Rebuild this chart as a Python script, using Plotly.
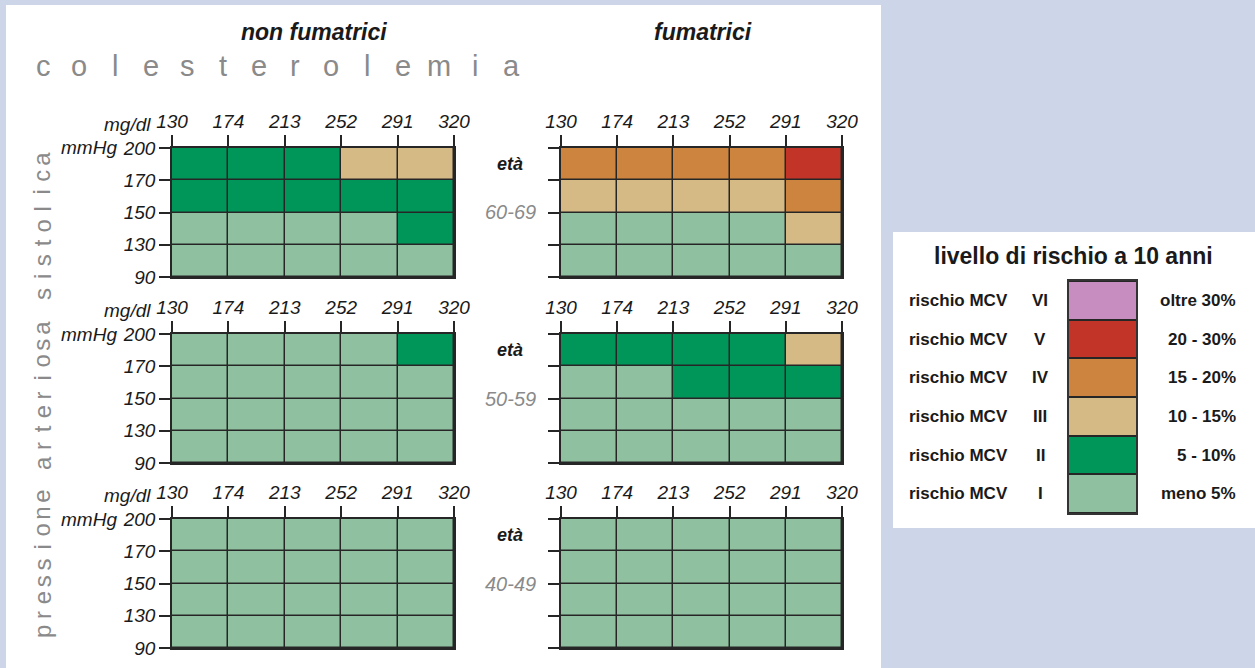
import plotly.graph_objects as go

# ---------------- data ----------------
chol_ticks = ["130", "174", "213", "252", "291", "320"]
bp_ticks = ["90", "130", "150", "170", "200"]
age_groups = ["60-69", "50-59", "40-49"]
groups = ["non fumatrici", "fumatrici"]

# risk level per cell (1 = I ... 6 = VI); rows listed top (170-200) to bottom (90-130)
nonsmoke_60_69 = [[2, 2, 2, 3, 3], [2, 2, 2, 2, 2], [1, 1, 1, 1, 2], [1, 1, 1, 1, 1]]
smoke_60_69 = [[4, 4, 4, 4, 5], [3, 3, 3, 3, 4], [1, 1, 1, 1, 3], [1, 1, 1, 1, 1]]
nonsmoke_50_59 = [[1, 1, 1, 1, 2], [1, 1, 1, 1, 1], [1, 1, 1, 1, 1], [1, 1, 1, 1, 1]]
smoke_50_59 = [[2, 2, 2, 2, 3], [1, 1, 2, 2, 2], [1, 1, 1, 1, 1], [1, 1, 1, 1, 1]]
nonsmoke_40_49 = [[1, 1, 1, 1, 1], [1, 1, 1, 1, 1], [1, 1, 1, 1, 1], [1, 1, 1, 1, 1]]
smoke_40_49 = [[1, 1, 1, 1, 1], [1, 1, 1, 1, 1], [1, 1, 1, 1, 1], [1, 1, 1, 1, 1]]

risk_levels = ["I", "II", "III", "IV", "V", "VI"]
risk_ranges = ["meno 5%", "5 - 10%", "10 - 15%", "15 - 20%", "20 - 30%", "oltre 30%"]
risk_colors = ["#8fc1a0", "#00965a", "#d5ba86", "#cd843e", "#c33428", "#c78dc1"]

panels = [
    [nonsmoke_60_69, smoke_60_69],
    [nonsmoke_50_59, smoke_50_59],
    [nonsmoke_40_49, smoke_40_49],
]

# ---------------- layout helpers ----------------
W, H = 1255, 668
def px(x):
    return x / W
def py(y):
    return 1 - y / H
def sfx(n):
    return "" if n == 1 else str(n)

FONT = "Liberation Sans, Arial, Helvetica, sans-serif"
LINE = "#262626"
GRAY = "#8a8a8a"
BG = "#cdd6e8"
TXT = "#1a1a1a"

n_lv = len(risk_colors)
cscale = []
for i, c in enumerate(risk_colors):
    cscale.append([i / n_lv, c])
    cscale.append([(i + 1) / n_lv, c])

col_x = [(172, 454), (561, 842)]
row_y = [(148, 277), (334, 463), (519, 648)]

fig = go.Figure()
layout = {}
annotations = []

xcent = [i + 0.5 for i in range(len(chol_ticks) - 1)]
ycent = [i + 0.5 for i in range(len(bp_ticks) - 1)]
tickfont = dict(family=FONT, size=19, style="italic", color=TXT)

for i, age in enumerate(age_groups):
    for j in range(2):
        s = sfx(i * 2 + j + 1)
        z = list(reversed(panels[i][j]))
        fig.add_trace(go.Heatmap(
            z=z, x=xcent, y=ycent, zmin=0.5, zmax=n_lv + 0.5,
            colorscale=cscale, showscale=False, xgap=1.5, ygap=1.5,
            hoverinfo="skip", xaxis=f"x{s}", yaxis=f"y{s}",
        ))
        layout[f"xaxis{s}"] = dict(
            domain=[px(col_x[j][0]), px(col_x[j][1])], anchor=f"y{s}",
            range=[0, len(chol_ticks) - 1], side="top", automargin=False,
            tickvals=list(range(len(chol_ticks))), ticktext=chol_ticks,
            ticks="outside", ticklen=11, tickwidth=1.5, tickcolor=LINE,
            showline=True, mirror=True, linecolor=LINE, linewidth=1.5,
            showgrid=False, zeroline=False, fixedrange=True, tickfont=tickfont,
        )
        layout[f"yaxis{s}"] = dict(
            domain=[py(row_y[i][1]), py(row_y[i][0])], anchor=f"x{s}",
            range=[0, len(bp_ticks) - 1], automargin=False,
            tickvals=list(range(len(bp_ticks))), ticktext=bp_ticks,
            showticklabels=(j == 0),
            ticks="outside", ticklen=11, tickwidth=1.5, tickcolor=LINE,
            showline=True, mirror=True, linecolor=LINE, linewidth=1.5,
            showgrid=False, zeroline=False, fixedrange=True, tickfont=tickfont,
        )
        if j == 0:
            annotations.append(dict(
                text="mg/dl", xref=f"x{s}", x=0, xanchor="right", xshift=-19,
                yref=f"y{s} domain", y=1, yanchor="bottom", yshift=11,
                showarrow=False, font=tickfont))
            annotations.append(dict(
                text="mmHg", xref=f"x{s} domain", x=0, xanchor="right", xshift=-53,
                yref=f"y{s}", y=len(bp_ticks) - 1, yanchor="middle",
                showarrow=False, font=tickfont))
        else:
            annotations.append(dict(
                text="età", xref="paper", x=px(510), xanchor="center",
                yref=f"y{s}", y=len(bp_ticks) - 1.5, yanchor="middle",
                showarrow=False,
                font=dict(family=FONT, size=18, style="italic", weight="bold", color=TXT)))
            annotations.append(dict(
                text=age, xref="paper", x=px(510), xanchor="center",
                yref=f"y{s}", y=2, yanchor="middle",
                showarrow=False,
                font=dict(family=FONT, size=20, style="italic", color=GRAY)))

# legend swatches as a small heatmap
lv_idx = list(range(1, n_lv + 1))
fig.add_trace(go.Heatmap(
    z=[[v] for v in lv_idx], x=[0.5], y=[k + 0.5 for k in range(n_lv)],
    zmin=0.5, zmax=n_lv + 0.5, colorscale=cscale, showscale=False,
    ygap=2, hoverinfo="skip", xaxis="x7", yaxis="y7",
))
layout["xaxis7"] = dict(domain=[px(1069), px(1136)], anchor="y7", range=[0, 1],
                        automargin=False, showticklabels=False, ticks="", showgrid=False,
                        zeroline=False, showline=True, mirror=True,
                        linecolor="#333333", linewidth=1.5, fixedrange=True)
layout["yaxis7"] = dict(domain=[py(513), py(281)], anchor="x7", range=[0, n_lv],
                        automargin=False, showticklabels=False, ticks="", showgrid=False,
                        zeroline=False, showline=True, mirror=True,
                        linecolor="#333333", linewidth=1.5, fixedrange=True)
lf = dict(family=FONT, size=17, weight="bold", color=TXT)
for k in range(n_lv):
    annotations.append(dict(text="rischio MCV", xref="paper", x=px(907), xanchor="left",
                            yref="y7", y=k + 0.5, yanchor="middle", showarrow=False, font=lf))
    annotations.append(dict(text=risk_levels[k], xref="paper", x=px(1040), xanchor="center",
                            yref="y7", y=k + 0.5, yanchor="middle", showarrow=False, font=lf))
    annotations.append(dict(text=risk_ranges[k], xref="paper", x=px(1238), xanchor="right",
                            yref="y7", y=k + 0.5, yanchor="middle", showarrow=False, font=lf))

annotations.append(dict(text="livello di rischio a 10 anni", xref="paper", x=px(1073),
                        y=py(256), yref="paper", xanchor="center", yanchor="middle",
                        showarrow=False,
                        font=dict(family=FONT, size=23, weight="bold", color=TXT)))

# titles
tfont = dict(family=FONT, size=23, style="italic", weight="bold", color=TXT)
annotations.append(dict(text=groups[0], xref="paper", x=px(314), yref="paper", y=py(32),
                        xanchor="center", yanchor="middle", showarrow=False, font=tfont))
annotations.append(dict(text=groups[1], xref="paper", x=px(703), yref="paper", y=py(32),
                        xanchor="center", yanchor="middle", showarrow=False, font=tfont))

# letter-spaced axis titles
chol_title = "colesterolemia"
for k, ch in enumerate(chol_title):
    annotations.append(dict(text=ch, xref="paper", x=px(43 + k * 36), yref="paper", y=py(66),
                            xanchor="center", yanchor="middle", showarrow=False,
                            font=dict(family=FONT, size=29, color=GRAY)))
bp_title = "pressione arteriosa sistolica"
for k, ch in enumerate(bp_title):
    if ch == " ":
        continue
    annotations.append(dict(text=ch, xref="paper", x=px(42), yref="paper", y=py(632 - k * 16.9),
                            xanchor="center", yanchor="middle", showarrow=False, textangle=-90,
                            font=dict(family=FONT, size=24, color=GRAY)))

# page frame: blue background around the white sheet and legend card
frame = [(0, 0, W, 5), (0, 0, 6, H), (881, 0, W, 232), (881, 528, W, H), (881, 232, 893, 528)]
shapes = [dict(type="rect", xref="paper", yref="paper", x0=px(a), x1=px(c), y0=py(d), y1=py(b),
               fillcolor=BG, line=dict(width=0), layer="below") for a, b, c, d in frame]

fig.update_layout(
    width=W, height=H, margin=dict(l=0, r=0, t=0, b=0, autoexpand=False),
    paper_bgcolor="white", plot_bgcolor=LINE, showlegend=False,
    annotations=annotations, shapes=shapes, **layout,
)
fig.write_html("out.html", config={"displayModeBar": False},
               post_script="document.body.style.margin='0';document.body.style.overflow='hidden';")
